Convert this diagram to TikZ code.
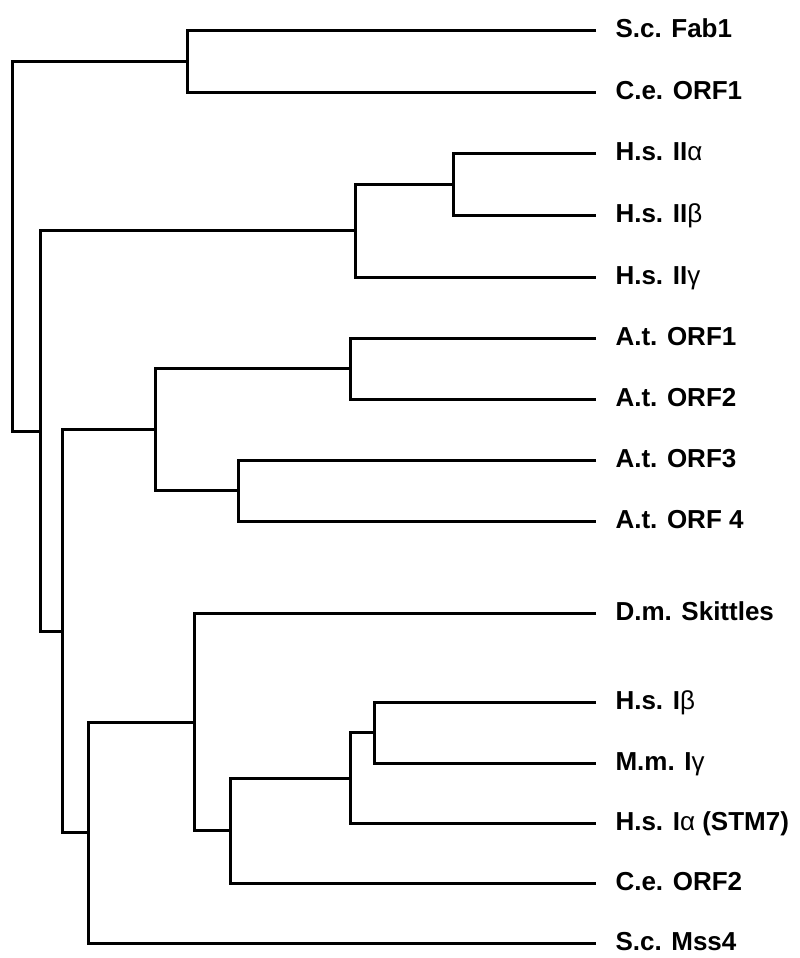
\documentclass[tikz,border=0pt]{standalone}
\usepackage{fontspec}
\setmainfont{Liberation Sans}
\begin{document}
\begin{tikzpicture}[x=0.5pt,y=-0.5pt,line width=1.5pt,
    taxon/.style={anchor=west,inner xsep=9pt,inner ysep=0pt,text height=7pt,text depth=0pt,
      font=\bfseries\fontsize{13}{15}\selectfont}]
  \useasboundingbox (0,0) rectangle (799,958);
  % leaves
  \node[taxon] (fab1) at (596,30) {S.c. Fab1};
  \node[taxon] (ce1) at (596,92) {C.e. ORF1};
  \node[taxon] (iia) at (596,153) {H.s. II{\mdseries α}};
  \node[taxon] (iib) at (596,215) {H.s. II{\mdseries β}};
  \node[taxon] (iig) at (596,277) {H.s. II{\mdseries γ}};
  \node[taxon] (at1) at (596,338) {A.t. ORF1};
  \node[taxon] (at2) at (596,399) {A.t. ORF2};
  \node[taxon] (at3) at (596,460) {A.t. ORF3};
  \node[taxon] (at4) at (596,521) {A.t. ORF 4};
  \node[taxon] (skit) at (596,613) {D.m. Skittles};
  \node[taxon] (ib) at (596,702) {H.s. I{\mdseries β}};
  \node[taxon] (ig) at (596,763) {M.m. I{\mdseries γ}};
  \node[taxon] (ia) at (596,823) {H.s. I{\mdseries α} (STM7)};
  \node[taxon] (ce2) at (596,883) {C.e. ORF2};
  \node[taxon] (mss4) at (596,943) {S.c. Mss4};
  % branch points
  \coordinate (fab) at (187,61);
  \coordinate (iiab) at (453,184);
  \coordinate (ii) at (355,230);
  \coordinate (at12) at (350,368);
  \coordinate (at34) at (238,490);
  \coordinate (at) at (155,429);
  \coordinate (ibg) at (374,732);
  \coordinate (iabg) at (350,778);
  \coordinate (ice) at (230,830);
  \coordinate (dm) at (194,722);
  \coordinate (sc) at (88,832);
  \coordinate (ati) at (62,631);
  \coordinate (rest) at (40,431);
  \coordinate (root) at (12,246);
  % branches
  \draw (fab1.west) -| (fab) |- (ce1.west);
  \draw (iia.west) -| (iiab) |- (iib.west);
  \draw (iiab) -| (ii) |- (iig.west);
  \draw (at1.west) -| (at12) |- (at2.west);
  \draw (at3.west) -| (at34) |- (at4.west);
  \draw (at12) -| (at) |- (at34);
  \draw (ib.west) -| (ibg) |- (ig.west);
  \draw (ibg) -| (iabg) |- (ia.west);
  \draw (iabg) -| (ice) |- (ce2.west);
  \draw (skit.west) -| (dm) |- (ice);
  \draw (dm) -| (sc) |- (mss4.west);
  \draw (at) -| (ati) |- (sc);
  \draw (ii) -| (rest) |- (ati);
  \draw (fab) -| (root) |- (rest);
\end{tikzpicture}
\end{document}
